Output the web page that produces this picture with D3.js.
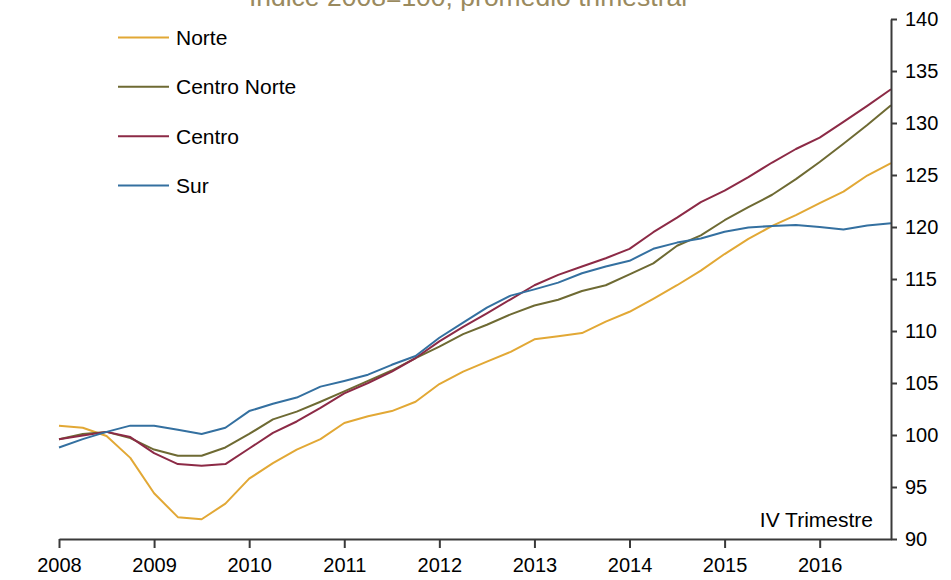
<!DOCTYPE html>
<html>
<head>
<meta charset="utf-8">
<script src="https://cdn.jsdelivr.net/npm/d3@7"></script>
<style>
  html, body { margin: 0; padding: 0; background: #fff; }
  svg { display: block; font-family: "Liberation Sans", Arial, sans-serif; }
</style>
</head>
<body>
<svg id="chart" width="951" height="580"></svg>
<script>
const title = "Índice 2008=100, promedio trimestral";
const note = "IV Trimestre";

const periods = [
  "2008-1","2008-2","2008-3","2008-4",
  "2009-1","2009-2","2009-3","2009-4",
  "2010-1","2010-2","2010-3","2010-4",
  "2011-1","2011-2","2011-3","2011-4",
  "2012-1","2012-2","2012-3","2012-4",
  "2013-1","2013-2","2013-3","2013-4",
  "2014-1","2014-2","2014-3","2014-4",
  "2015-1","2015-2","2015-3","2015-4",
  "2016-1","2016-2","2016-3","2016-4"
];

const seriesNames = ["Norte", "Centro Norte", "Centro", "Sur"];

const norte = [100.9, 100.7, 99.9, 97.8, 94.4, 92.1, 91.9, 93.4, 95.8, 97.3, 98.6, 99.6,
  101.15, 101.8, 102.3, 103.2, 104.9, 106.1, 107.05, 108.0, 109.2, 109.5, 109.8, 110.9,
  111.85, 113.1, 114.4, 115.8, 117.4, 118.85, 120.1, 121.15, 122.3, 123.4, 124.95, 126.15];

const centroNorte = [99.6, 100.1, 100.3, 99.7, 98.6, 98.0, 98.0, 98.8, 100.1, 101.5, 102.25, 103.2,
  104.2, 105.2, 106.2, 107.4, 108.5, 109.7, 110.6, 111.6, 112.45, 113.0, 113.85, 114.4,
  115.45, 116.5, 118.2, 119.2, 120.65, 121.9, 123.1, 124.6, 126.25, 128.0, 129.8, 131.7];

const centro = [99.6, 99.95, 100.3, 99.8, 98.25, 97.2, 97.05, 97.2, 98.7, 100.2, 101.3, 102.6,
  104.0, 105.0, 106.1, 107.4, 109.0, 110.4, 111.7, 113.05, 114.4, 115.4, 116.2, 117.0,
  117.9, 119.5, 120.9, 122.4, 123.5, 124.8, 126.2, 127.5, 128.6, 130.1, 131.65, 133.25];

const sur = [98.8, 99.6, 100.3, 100.9, 100.9, 100.5, 100.1, 100.7, 102.3, 103.0, 103.6, 104.65,
  105.2, 105.8, 106.75, 107.6, 109.35, 110.8, 112.25, 113.4, 114.0, 114.65, 115.55, 116.2,
  116.75, 117.9, 118.5, 118.9, 119.55, 119.95, 120.1, 120.2, 120.0, 119.75, 120.15, 120.35];

const yearTicks = [2008, 2009, 2010, 2011, 2012, 2013, 2014, 2015, 2016];
const yTicks = [90, 95, 100, 105, 110, 115, 120, 125, 130, 135, 140];

const colors = ["#E2A835", "#6E6A33", "#8C2A46", "#3470A0"];

const seriesValues = [norte, centroNorte, centro, sur];

const svg = d3.select("#chart");

const mLeft = 59, mRight = 891, mTop = 19, mBottom = 539;

const toYear = p => { const [yr, q] = p.split("-").map(Number); return yr + (q - 1) / 4; };

const x = d3.scaleLinear().domain([2008, toYear(periods[periods.length - 1])]).range([mLeft, mRight]);
const y = d3.scaleLinear().domain([90, 140]).range([mBottom, mTop]);

// title
svg.append("text")
  .attr("x", 468).attr("y", 6)
  .attr("text-anchor", "middle")
  .attr("fill", "#9A8A5E")
  .attr("font-size", 26.5)
  .text(title);

// lines
const line = d3.line()
  .x((d, i) => x(toYear(periods[i])))
  .y(d => y(d));

seriesValues.forEach((vals, k) => {
  svg.append("path")
    .datum(vals)
    .attr("fill", "none")
    .attr("stroke", colors[k])
    .attr("stroke-width", 2)
    .attr("stroke-linejoin", "round")
    .attr("d", line);
});

// x axis
const xAxis = d3.axisBottom(x)
  .tickValues(yearTicks)
  .tickFormat(d3.format("d"))
  .tickSize(9)
  .tickSizeOuter(0)
  .tickPadding(10);

const gx = svg.append("g").attr("transform", `translate(0,${mBottom})`).call(xAxis);
gx.select(".domain").attr("stroke", "#3a3a3a").attr("stroke-width", 2);
gx.selectAll(".tick line").attr("stroke", "#3a3a3a").attr("stroke-width", 2);
gx.selectAll(".tick text").attr("font-size", 20).attr("fill", "#000")
  .attr("font-family", "'Liberation Sans', Arial, sans-serif");

// y axis (right)
const yAxis = d3.axisRight(y)
  .tickValues(yTicks)
  .tickSize(6)
  .tickSizeOuter(0)
  .tickPadding(8);

const gy = svg.append("g").attr("transform", `translate(${mRight},0)`).call(yAxis);
gy.select(".domain").attr("stroke", "#3a3a3a").attr("stroke-width", 2);
gy.selectAll(".tick line").attr("stroke", "#3a3a3a").attr("stroke-width", 2);
gy.selectAll(".tick text").attr("font-size", 20).attr("fill", "#000")
  .attr("font-family", "'Liberation Sans', Arial, sans-serif");

// note
svg.append("text")
  .attr("x", 873).attr("y", 527)
  .attr("text-anchor", "end")
  .attr("font-size", 21)
  .attr("fill", "#000")
  .text(note);

// legend
const legendY = d3.scalePoint().domain(seriesNames).range([37.5, 185.5]);
const lg = svg.append("g");
seriesNames.forEach((name, k) => {
  const yy = legendY(name);
  lg.append("line")
    .attr("x1", 118).attr("x2", 169)
    .attr("y1", yy).attr("y2", yy)
    .attr("stroke", colors[k]).attr("stroke-width", 2);
  lg.append("text")
    .attr("x", 176).attr("y", yy)
    .attr("dy", "0.35em")
    .attr("font-size", 21)
    .attr("fill", "#000")
    .text(name);
});
</script>
</body>
</html>
